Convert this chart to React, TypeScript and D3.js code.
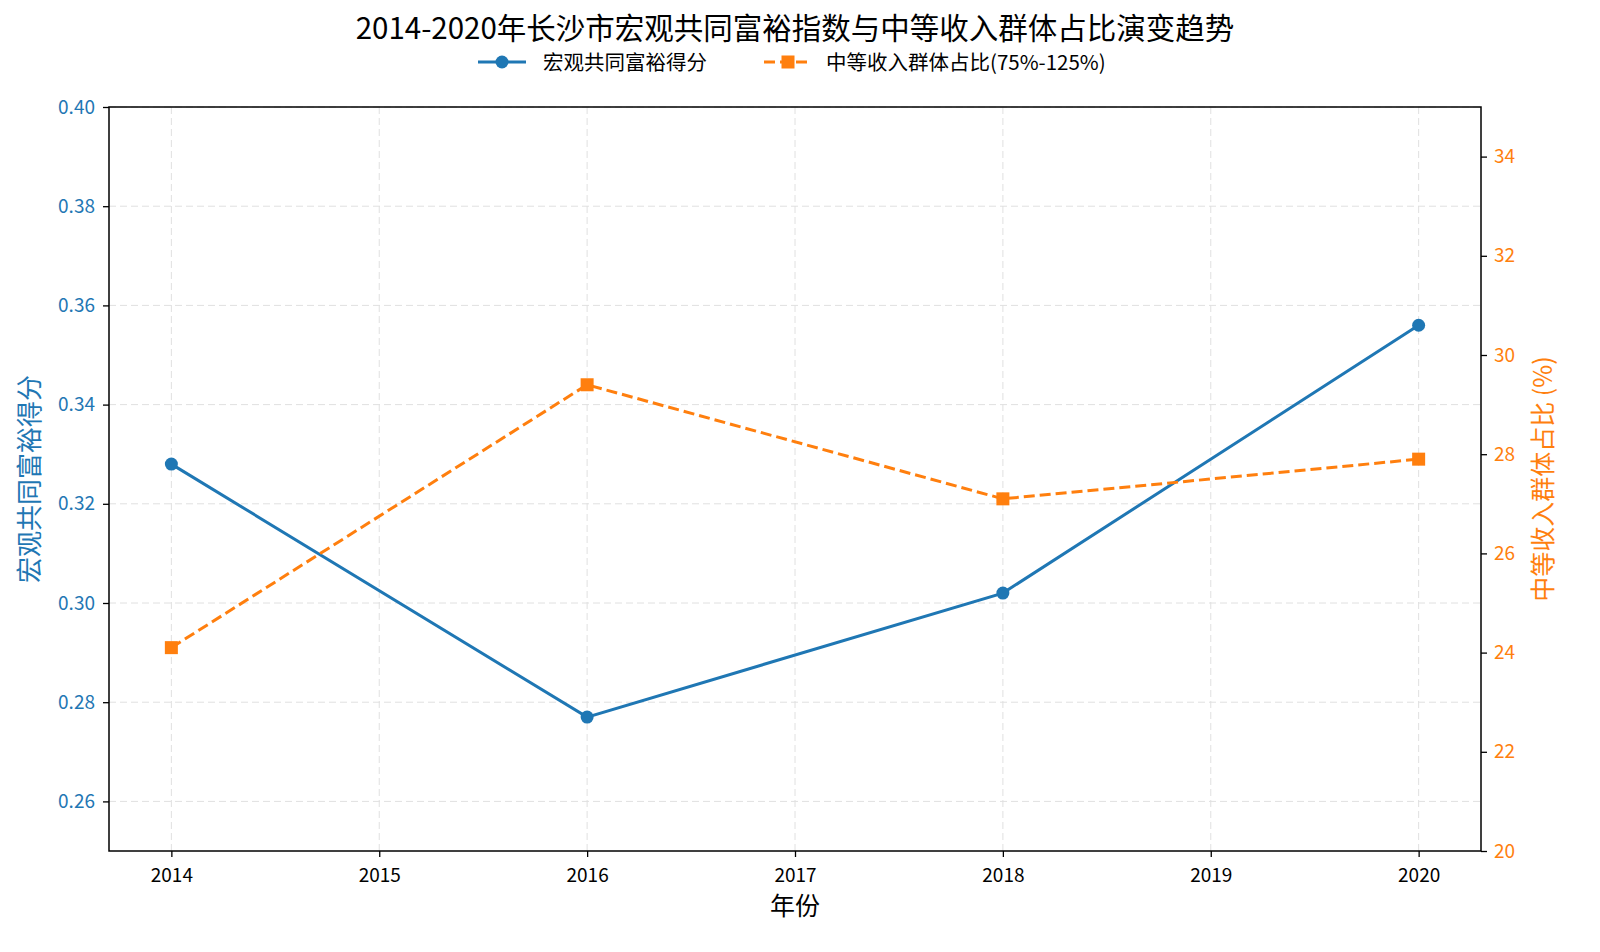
import React, { useRef, useEffect } from 'react';
import * as d3 from 'd3';

const years = [2014, 2016, 2018, 2020];
const richScore = [0.328, 0.277, 0.302, 0.356];
const middleShare = [24.1, 29.4, 27.1, 27.9];
const xTicks = [2014, 2015, 2016, 2017, 2018, 2019, 2020];
const leftTicks = [0.26, 0.28, 0.30, 0.32, 0.34, 0.36, 0.38, 0.40];
const rightTicks = [20, 22, 24, 26, 28, 30, 32, 34];

const BLUE = '#1f77b4';
const ORANGE = '#ff7f0e';
const FONT = '"Noto Sans CJK SC", "Noto Sans", sans-serif';

const App = () => {
    const svgRef = useRef(null);

    useEffect(() => {
        const svg = d3.select(svgRef.current);
        svg.selectAll("*").remove();

        const left = 109, right = 1481, top = 107, bottom = 851;

        const x = d3.scaleLinear().domain([2013.7, 2020.3]).range([left, right]);
        const yL = d3.scaleLinear().domain([0.25, 0.40]).range([bottom, top]);
        const yR = d3.scaleLinear().domain([20, 35]).range([bottom, top]);

        svg.append("rect").attr("width", 1600).attr("height", 952).attr("fill", "#fff");

        // grid
        const grid = svg.append("g").attr("stroke", "#e0e0e0").attr("stroke-dasharray", "7,4").attr("stroke-width", 1);
        xTicks.forEach(t => {
            grid.append("line").attr("x1", x(t)).attr("x2", x(t)).attr("y1", top).attr("y2", bottom);
        });
        leftTicks.forEach(t => {
            grid.append("line").attr("x1", left).attr("x2", right).attr("y1", yL(t)).attr("y2", yL(t));
        });

        // lines
        const blueLine = d3.line<number>().x((d, i) => x(years[i])).y(d => yL(d));
        svg.append("path").datum(richScore)
            .attr("fill", "none").attr("stroke", BLUE).attr("stroke-width", 3).attr("d", blueLine);
        svg.selectAll(".bdot").data(richScore).enter().append("circle")
            .attr("cx", (d, i) => x(years[i])).attr("cy", d => yL(d)).attr("r", 6.5).attr("fill", BLUE);

        const orangeLine = d3.line<number>().x((d, i) => x(years[i])).y(d => yR(d));
        svg.append("path").datum(middleShare)
            .attr("fill", "none").attr("stroke", ORANGE).attr("stroke-width", 3)
            .attr("stroke-dasharray", "11,5").attr("d", orangeLine);
        svg.selectAll(".osq").data(middleShare).enter().append("rect")
            .attr("x", (d, i) => x(years[i]) - 6.5).attr("y", d => yR(d) - 6.5)
            .attr("width", 13).attr("height", 13).attr("fill", ORANGE);

        // frame
        svg.append("rect").attr("x", left).attr("y", top).attr("width", right - left).attr("height", bottom - top)
            .attr("fill", "none").attr("stroke", "#000").attr("stroke-width", 1.5);

        // axes
        const fmt = d3.format(".2f");
        const gx = svg.append("g").attr("transform", `translate(0,${bottom})`)
            .call(d3.axisBottom(x).tickValues(xTicks).tickFormat(d3.format("d")).tickSizeOuter(0).tickSize(6));
        const gl = svg.append("g").attr("transform", `translate(${left},0)`)
            .call(d3.axisLeft(yL).tickValues(leftTicks).tickFormat(d => fmt(d)).tickSizeOuter(0).tickSize(6));
        const gr = svg.append("g").attr("transform", `translate(${right},0)`)
            .call(d3.axisRight(yR).tickValues(rightTicks).tickSizeOuter(0).tickSize(6));

        [gx, gl, gr].forEach(g => {
            g.select(".domain").remove();
            g.selectAll("line").attr("stroke", "#000").attr("stroke-width", 1.3);
            g.selectAll("text").attr("font-family", FONT).attr("font-size", 19);
        });
        gx.selectAll("text").attr("fill", "#000").attr("y", 14).attr("dy", "0.9em");
        gl.selectAll("text").attr("fill", BLUE).attr("x", -14);
        gr.selectAll("text").attr("fill", ORANGE).attr("x", 13);

        // labels
        svg.append("text").attr("x", 795).attr("y", 915).attr("text-anchor", "middle")
            .attr("font-family", FONT).attr("font-size", 25).attr("fill", "#000").text("年份");
        svg.append("text").attr("transform", `translate(39,${(top + bottom) / 2}) rotate(-90)`)
            .attr("text-anchor", "middle").attr("font-family", FONT).attr("font-size", 26).attr("fill", BLUE)
            .text("宏观共同富裕得分");
        svg.append("text").attr("transform", `translate(1552,${(top + bottom) / 2}) rotate(-90)`)
            .attr("text-anchor", "middle").attr("font-family", FONT).attr("font-size", 25).attr("fill", ORANGE)
            .text("中等收入群体占比 (%)");

        // title
        svg.append("text").attr("x", 795).attr("y", 39).attr("text-anchor", "middle")
            .attr("font-family", FONT).attr("font-size", 29.5).attr("fill", "#000")
            .text("2014-2020年长沙市宏观共同富裕指数与中等收入群体占比演变趋势");

        // legend
        const lg = svg.append("g").attr("font-family", FONT).attr("font-size", 20.5);
        lg.append("line").attr("x1", 478).attr("x2", 526).attr("y1", 62).attr("y2", 62)
            .attr("stroke", BLUE).attr("stroke-width", 3);
        lg.append("circle").attr("cx", 502).attr("cy", 62).attr("r", 6.5).attr("fill", BLUE);
        lg.append("text").attr("x", 543).attr("y", 70).text("宏观共同富裕得分");
        lg.append("line").attr("x1", 764).attr("x2", 812).attr("y1", 62).attr("y2", 62)
            .attr("stroke", ORANGE).attr("stroke-width", 3).attr("stroke-dasharray", "11,5");
        lg.append("rect").attr("x", 781.5).attr("y", 55.5).attr("width", 13).attr("height", 13).attr("fill", ORANGE);
        lg.append("text").attr("x", 826).attr("y", 70).text("中等收入群体占比(75%-125%)");
    }, []);

    return <svg ref={svgRef} width="1600" height="952" style={{ position: 'absolute', left: 0, top: 0 }}></svg>;
};

export default App;
